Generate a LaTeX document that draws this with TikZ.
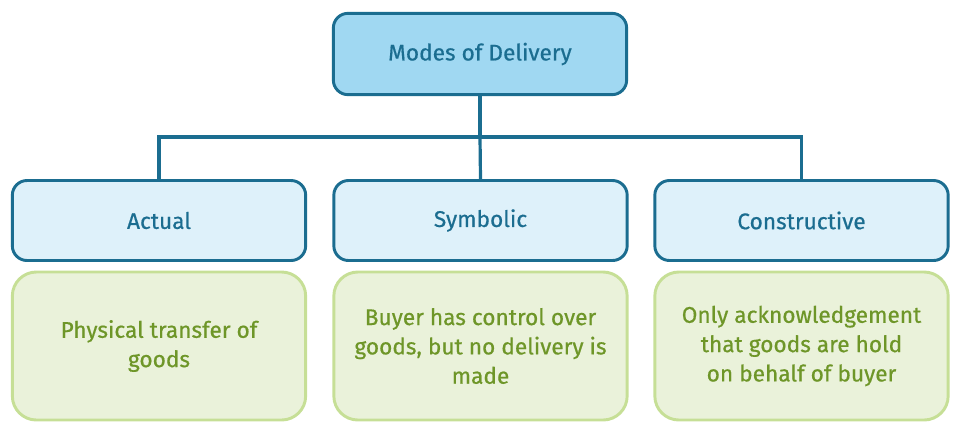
\documentclass[tikz,border=0pt]{standalone}
\usepackage{fontspec}
\setmainfont{Fira Sans}[FakeBold=0.6]
\definecolor{bdblue}{HTML}{1B6D90}
\definecolor{topfill}{HTML}{A0D8F2}
\definecolor{rowfill}{HTML}{DEF1FA}
\definecolor{grfill}{HTML}{EAF2DA}
\definecolor{grline}{HTML}{C6DF96}
\definecolor{grtext}{HTML}{6E9628}
\begin{document}
\begin{tikzpicture}[x=0.75pt,y=-0.75pt,
  topbox/.style={draw=bdblue,fill=topfill,text=bdblue,line width=2.2pt,rounded corners=11pt,
    minimum width=220pt,minimum height=61pt,inner sep=0pt,font=\fontsize{17}{21}\selectfont},
  kindbox/.style={draw=bdblue,fill=rowfill,text=bdblue,line width=2.2pt,rounded corners=11pt,
    minimum width=220pt,minimum height=60pt,inner sep=0pt,font=\fontsize{17}{21}\selectfont},
  descbox/.style={draw=grline,fill=grfill,text=grtext,line width=2.2pt,rounded corners=18pt,
    minimum width=220pt,minimum height=111pt,inner sep=0pt,align=center,font=\fontsize{17}{22}\selectfont},
  link/.style={draw=bdblue,line width=2.4pt}]
\useasboundingbox (0,0) rectangle (960,430);
\node[topbox] (top) at (480,54) {Modes of Delivery};
\node[kindbox] (a) at (159,220.5) {Actual};
\node[kindbox] (b) at (480.5,220.5) {Symbolic};
\node[kindbox] (c) at (801.5,220.5) {Constructive};
\node[descbox] (da) at (159,346) {Physical transfer of\\goods};
\node[descbox] (db) at (480.5,346) {Buyer has control over\\goods, but no delivery is\\made};
\node[descbox] (dc) at (801.5,346) {Only acknowledgement\\that goods are hold\\on behalf of buyer};
\coordinate (j) at (480,137);
\draw[link] (top.south) -- (j);
\draw[link] (j) -- (b.north);
\draw[link] (j) -| (a.north);
\draw[link] (j) -| (c.north);
\end{tikzpicture}
\end{document}
